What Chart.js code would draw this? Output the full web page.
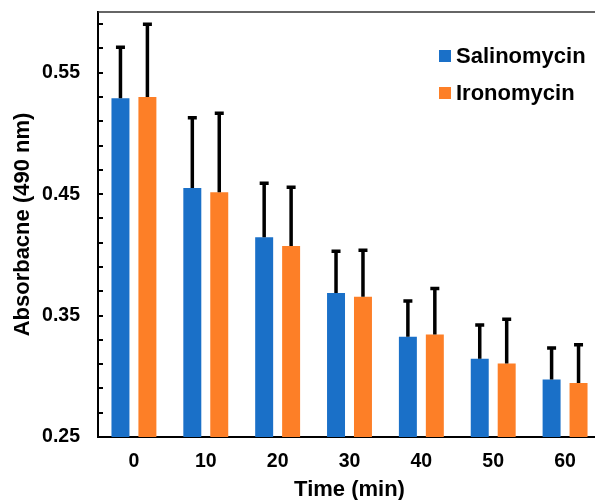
<!DOCTYPE html>
<html>
<head>
<meta charset="utf-8">
<script src="https://cdn.jsdelivr.net/npm/chart.js@4"></script>
<style>
  html, body { margin: 0; padding: 0; background: #fff; overflow: hidden; }
  #wrap { width: 595px; height: 500px; overflow: hidden; }
</style>
</head>
<body>
<div id="wrap"><canvas id="chart" width="602" height="500"></canvas></div>
<script>
// data
const categories = ["0", "10", "20", "30", "40", "50", "60"];
const salinomycin = [0.529, 0.455, 0.4145, 0.3685, 0.3326, 0.3145, 0.2974];
const salinomycinErr = [0.042, 0.058, 0.0445, 0.0345, 0.0294, 0.0277, 0.0258];
const ironomycin = [0.530, 0.4516, 0.4073, 0.3656, 0.3345, 0.3106, 0.2944];
const ironomycinErr = [0.060, 0.065, 0.0484, 0.0381, 0.0377, 0.0363, 0.0316];
const yTicks = [0.25, 0.27, 0.29, 0.31, 0.33, 0.35, 0.37, 0.39, 0.41, 0.43, 0.45, 0.47, 0.49, 0.51, 0.53, 0.55, 0.57, 0.59];
const yLabels = ["0.25", "0.35", "0.45", "0.55"];

const FONT = "'Liberation Sans', Arial, sans-serif";
const BLUE = "#1a70c8";
const ORANGE = "#fd7f27";

// error bars (upper only), inward y ticks, top frame line, legend
const extras = {
  id: "extras",
  afterDatasetsDraw(chart) {
    const ctx = chart.ctx;
    const y = chart.scales.y;
    const area = chart.chartArea;
    const errs = [salinomycinErr, ironomycinErr];

    ctx.save();
    ctx.strokeStyle = "#000";
    ctx.lineWidth = 3.5;
    chart.data.datasets.forEach((ds, i) => {
      const meta = chart.getDatasetMeta(i);
      meta.data.forEach((bar, j) => {
        const top = y.getPixelForValue(ds.data[j] + errs[i][j]);
        ctx.beginPath();
        ctx.moveTo(bar.x, bar.y);
        ctx.lineTo(bar.x, top);
        ctx.moveTo(bar.x - 4.5, top);
        ctx.lineTo(bar.x + 4.5, top);
        ctx.stroke();
      });
    });

    // tick marks pointing into the plot
    ctx.lineWidth = 2;
    yTicks.forEach(v => {
      const py = Math.round(y.getPixelForValue(v));
      ctx.beginPath();
      ctx.moveTo(area.left, py);
      ctx.lineTo(area.left + 5, py);
      ctx.stroke();
    });

    // top frame line
    ctx.strokeStyle = "#333";
    ctx.lineWidth = 1.5;
    ctx.beginPath();
    ctx.moveTo(area.left, area.top);
    ctx.lineTo(area.right, area.top);
    ctx.stroke();

    // legend
    ctx.font = "bold 22px " + FONT;
    ctx.textBaseline = "middle";
    ctx.fillStyle = "#000";
    chart.data.datasets.forEach((ds, i) => {
      const ly = 56 + i * 37;
      ctx.fillStyle = ds.backgroundColor;
      ctx.fillRect(439, ly - 6, 12, 12);
      ctx.fillStyle = "#000";
      ctx.fillText(ds.label, 456, ly + 1);
    });
    ctx.restore();
  }
};

new Chart(document.getElementById("chart"), {
  type: "bar",
  data: {
    labels: categories,
    datasets: [
      { label: "Salinomycin", data: salinomycin, backgroundColor: BLUE },
      { label: "Ironomycin", data: ironomycin, backgroundColor: ORANGE }
    ]
  },
  options: {
    responsive: false,
    animation: false,
    layout: { padding: { top: 12, right: 1, left: 0, bottom: 0 } },
    datasets: { bar: { categoryPercentage: 0.75, barPercentage: 0.667 } },
    plugins: { legend: { display: false }, tooltip: { enabled: false } },
    scales: {
      x: {
        grid: { display: false },
        border: { display: true, color: "#000", width: 2 },
        ticks: { color: "#000", padding: 5, font: { family: FONT, size: 19.5, weight: "bold" } },
        title: {
          display: true, text: "Time (min)", color: "#000",
          padding: 0, font: { family: FONT, size: 22, weight: "bold", lineHeight: 0.9 }
        },
        afterFit(s) { s.height = 63; s.paddingLeft = 0; s.paddingRight = 0; }
      },
      y: {
        min: 0.25,
        max: 0.60,
        afterBuildTicks(s) { s.ticks = yTicks.map(v => ({ value: v })); },
        grid: { drawOnChartArea: false, drawTicks: false },
        border: { display: true, color: "#000", width: 2 },
        ticks: {
          color: "#000", padding: 18, autoSkip: false,
          font: { family: FONT, size: 19.5, weight: "bold" },
          callback(v) {
            const s = v.toFixed(2);
            return yLabels.includes(s) ? s : "";
          }
        },
        title: {
          display: true, text: "Absorbacne (490 nm)", color: "#000",
          padding: { top: 10, bottom: 0 }, font: { family: FONT, size: 22, weight: "bold", lineHeight: 1.2 }
        },
        afterFit(s) { s.width = 98; s.paddingTop = 0; s.paddingBottom = 0; }
      }
    }
  },
  plugins: [extras]
});
</script>
</body>
</html>
